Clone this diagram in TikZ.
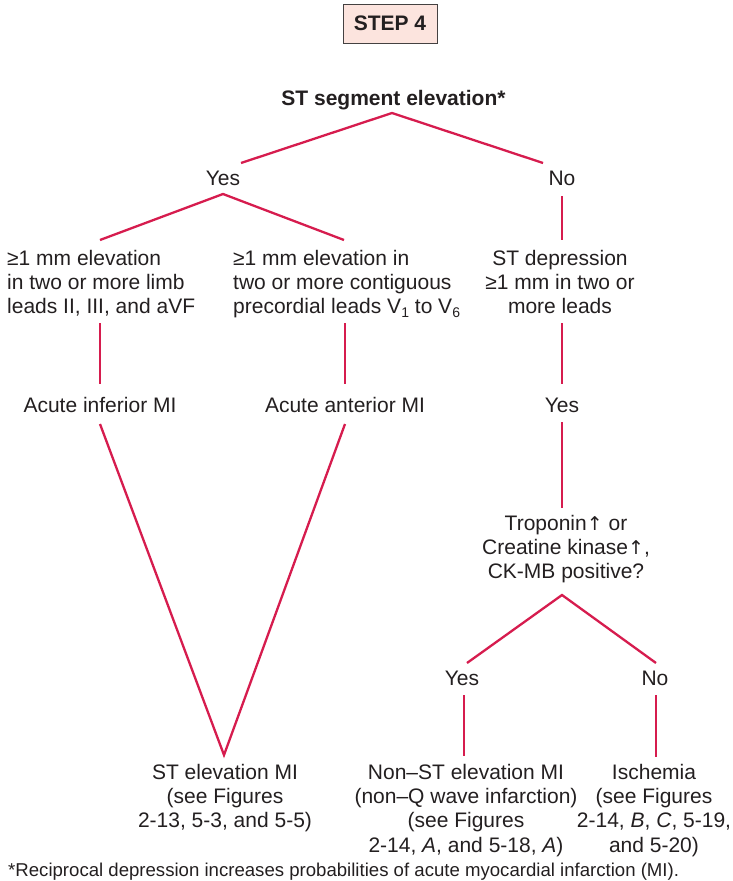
\documentclass[tikz,border=0pt]{standalone}
\usepackage{fontspec}
\setmainfont{Liberation Sans}
\newfontfamily\symfont{DejaVu Sans}
\definecolor{linkred}{RGB}{214,28,78}
\definecolor{ink}{RGB}{35,31,32}
\definecolor{stepfill}{RGB}{252,228,222}
\newcommand\lowidx[1]{\raisebox{-4pt}{\fontsize{14}{14}\selectfont #1}}
\newcommand\uparr{{\symfont\fontsize{19}{19}\selectfont ↑}}
\begin{document}
\begin{tikzpicture}[x=1pt,y=-1pt,
  txt/.style={inner sep=0pt, text=ink, font=\fontsize{21}{24.4}\selectfont, align=center, anchor=base},
  ltxt/.style={txt, align=left, anchor=base west},
  link/.style={draw=linkred, line width=2.3pt, line join=miter}]
\useasboundingbox (0,0) rectangle (732,881);

% step box
\node[draw=ink!85, fill=stepfill, line width=1pt, minimum width=94pt, minimum height=39pt,
      inner sep=0pt, text=ink, font=\bfseries\fontsize{21}{24}\selectfont] (step) at (390,23.5) {STEP 4};

% texts (base anchor = baseline of the last line)
\node[txt, font=\bfseries\fontsize{21}{24}\selectfont] (title) at (393.5,105) {ST segment elevation*};
\node[txt] (yes1) at (223,185) {Yes};
\node[txt] (no1) at (562,185) {No};
\node[ltxt] (limb) at (7,313.8) {≥1 mm elevation\\in two or more limb\\leads II, III, and aVF};
\node[ltxt] (prec) at (233,313.8) {≥1 mm elevation in\\two or more contiguous\\precordial leads V\lowidx{1} to V\lowidx{6}};
\node[txt] (stdep) at (560,313.8) {ST depression\\≥1 mm in two or\\more leads};
\node[txt] (inf) at (100,412) {Acute inferior MI};
\node[txt] (ant) at (345,412) {Acute anterior MI};
\node[txt] (yes2) at (562,412) {Yes};
\node[txt] (trop) at (566,578.8) {Troponin\uparr\ or\\Creatine kinase\uparr,\\CK-MB positive?};
\node[txt] (yes3) at (462,685) {Yes};
\node[txt] (no3) at (655,685) {No};
\node[txt] (stemi) at (225,827.8) {ST elevation MI\\(see Figures\\2-13, 5-3, and 5-5)};
\node[txt] (nstemi) at (466,852.2) {Non–ST elevation MI\\(non–Q wave infarction)\\(see Figures\\2-14, \textit{A}, and 5-18, \textit{A})};
\node[txt] (isch) at (654,852.2) {Ischemia\\(see Figures\\2-14, \textit{B}, \textit{C}, 5-19,\\and 5-20)};
\node[ltxt, font=\fontsize{18.6}{20}\selectfont] (foot) at (8,876) {*Reciprocal depression increases probabilities of acute myocardial infarction (MI).};

% connector points
\coordinate (c0) at (392,113);
\coordinate (c0l) at (241,163);
\coordinate (c0r) at (543,163);
\coordinate (c1) at (223,194);
\coordinate (c1l) at (100,240);
\coordinate (c1r) at (344,240);
\coordinate (c2t) at (562,196);
\coordinate (c2b) at (562,240);
\coordinate (c3t) at (100,323);
\coordinate (c3b) at (100,384);
\coordinate (c4t) at (345,323);
\coordinate (c4b) at (345,384);
\coordinate (c5t) at (562,323);
\coordinate (c5b) at (562,384);
\coordinate (v1) at (100,424);
\coordinate (v2) at (345,424);
\coordinate (vb) at (224,755);
\coordinate (c6t) at (562,422);
\coordinate (c6b) at (562,508);
\coordinate (c7) at (562,595);
\coordinate (c7l) at (467,663);
\coordinate (c7r) at (656,663);
\coordinate (c8t) at (464,695);
\coordinate (c8b) at (464,756);
\coordinate (c9t) at (656,695);
\coordinate (c9b) at (656,757);

\draw[link] (c0l) -- (c0) -- (c0r);
\draw[link] (c1l) -- (c1) -- (c1r);
\draw[link] (c2t) -- (c2b);
\draw[link] (c3t) -- (c3b);
\draw[link] (c4t) -- (c4b);
\draw[link] (c5t) -- (c5b);
\draw[link] (v1) -- (vb) -- (v2);
\draw[link] (c6t) -- (c6b);
\draw[link] (c7l) -- (c7) -- (c7r);
\draw[link] (c8t) -- (c8b);
\draw[link] (c9t) -- (c9b);
\end{tikzpicture}
\end{document}
